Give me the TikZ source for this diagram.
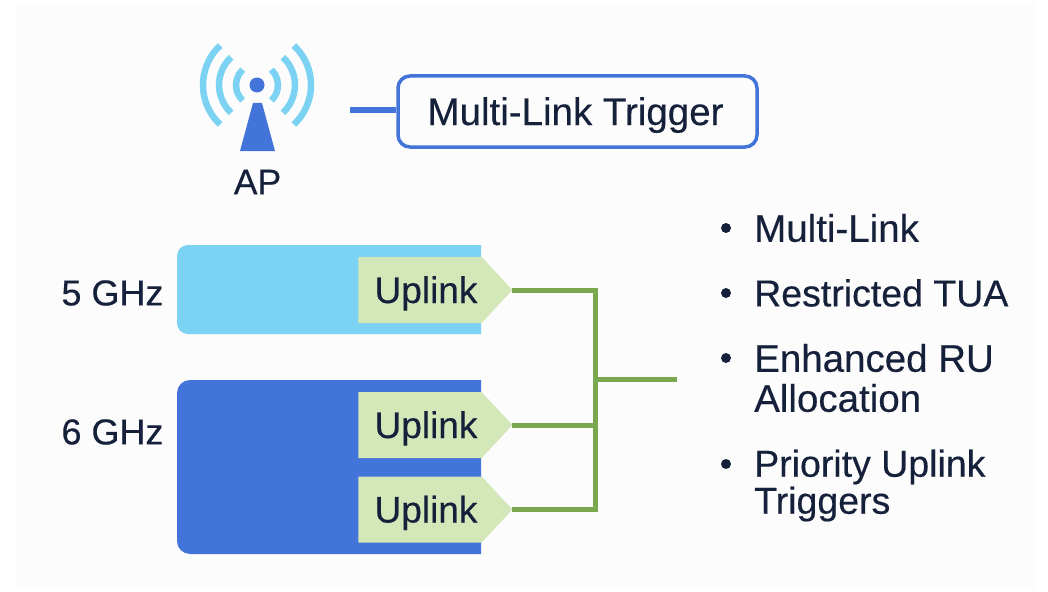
\documentclass[tikz,border=0pt]{standalone}
\usepackage{fontspec}
\setmainfont[FakeBold=0.35]{Liberation Sans}
\usetikzlibrary{shapes.symbols,calc}
\definecolor{pagebg}{HTML}{FCFCFC}
\definecolor{ink}{HTML}{15203A}
\definecolor{blueA}{HTML}{4374D9}
\definecolor{skyA}{HTML}{7BD2F2}
\definecolor{greenA}{HTML}{D3E7B8}
\definecolor{greenB}{HTML}{7AA84F}
\newcommand{\uptext}{\hspace*{12pt}\raisebox{-13pt}[0pt][0pt]{Uplink}}
\tikzset{
  x=1pt,y=-1pt,
  lbl/.style={font=\fontsize{37.5}{40}\selectfont,text=ink,inner sep=0pt},
  wave/.style={draw=skyA,line width=6.5pt},
  uplinkbox/.style={signal,signal to=east,signal from=nowhere,signal pointer angle=94,fill=greenA,
     minimum width=154pt,minimum height=66pt,inner sep=0pt,outer sep=0pt,font=\fontsize{37}{40}\selectfont,text=ink},
  wire/.style={draw=greenB,line width=5pt},
  bulletdot/.style={circle,fill=ink,minimum size=10pt,inner sep=0pt},
}
\begin{document}
\begin{tikzpicture}
\useasboundingbox (0,0) rectangle (1048,591);
\fill[white] (0,0) rectangle (1048,591);
\fill[pagebg] (17,3) rectangle (1035,588);
% antenna
\fill[blueA] (253,103) -- (262,103) -- (275,151) -- (240,151) -- cycle;
\node[circle,fill=blueA,minimum size=15pt,inner sep=0pt] (dot) at (257,85) {};
\foreach \r in {21,38,54}{
  \draw[wave] ($(dot)+(-133:\r)$) arc[start angle=-133,end angle=-227,radius=\r];
  \draw[wave] ($(dot)+(-47:\r)$) arc[start angle=-47,end angle=47,radius=\r];
}
\node[lbl,font=\fontsize{35.5}{40}\selectfont] (ap) at (257.5,182) {AP};
% trigger
\node[draw=blueA,line width=3.5pt,rounded corners=12pt,minimum width=359pt,minimum height=71pt,
      lbl,inner sep=0pt,font=\fontsize{38.5}{40}\selectfont] (trigger) at (577.5,111.5) {\raisebox{-13.5pt}[0pt][0pt]{Multi-Link Trigger}\kern4pt};
\coordinate (stub) at (350,110);
\draw[blueA,line width=6pt] (stub) -- (stub -| trigger.west);
% bands
\fill[skyA,rounded corners=11pt] (481,245) -- (177,245) -- (177,334) -- (481,334);
\fill[blueA,rounded corners=13pt] (481,380) -- (177,380) -- (177,554) -- (481,554);
\fill[skyA] (470,245) rectangle (481,334);
\fill[blueA] (470,380) rectangle (481,554);
\node[lbl,font=\fontsize{36}{40}\selectfont] (g5) at (112.5,293) {5 GHz};
\node[lbl,font=\fontsize{36}{40}\selectfont] (g6) at (112.5,432) {6 GHz};
% uplinks
\node[uplinkbox] (u1) at (420,290) {\uptext};
\node[uplinkbox] (u2) at (420,425) {\uptext};
\node[uplinkbox] (u3) at (420,509.5) {\uptext};
% wires
\coordinate (bus) at (595,379);
\coordinate (out) at (677,379);
\draw[wire] (u1.east) -| (bus);
\draw[wire] (u3.east) -| (bus);
\draw[wire] (u2.east) -- (u2.east -| bus);
\draw[wire] (bus) -- (out);
% bullets
\node[bulletdot] (b1) at (726,228) {};
\node[bulletdot] (b2) at (726,293) {};
\node[bulletdot] (b3) at (726,358) {};
\node[bulletdot] (b4) at (726,464) {};
\node[lbl,anchor=west,font=\fontsize{38.5}{40}\selectfont] (t1) at (754,228) {Multi-Link};
\node[lbl,anchor=west] (t2) at (754,293) {Restricted TUA};
\node[lbl,anchor=west,font=\fontsize{38.5}{40}\selectfont] (t3a) at (754,358) {Enhanced RU};
\node[lbl,anchor=west,font=\fontsize{38.5}{40}\selectfont] (t3b) at (754,398) {Allocation};
\node[lbl,anchor=west] (t4a) at (754,467) {Priority Uplink};
\node[lbl,anchor=west] (t4b) at (754,504) {Triggers};
\end{tikzpicture}
\end{document}
